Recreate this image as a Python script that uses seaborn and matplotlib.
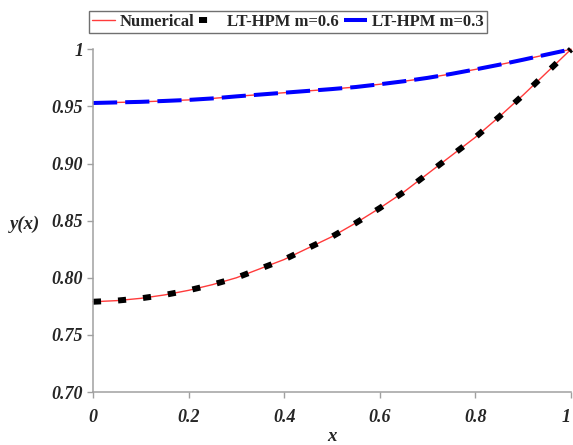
import matplotlib
matplotlib.use("Agg")
import matplotlib.pyplot as plt
import matplotlib.transforms as mtransforms
import seaborn as sns
import pandas as pd

# x positions of the solution samples
x_vals = [0.00, 0.05, 0.10, 0.15, 0.20, 0.25, 0.30, 0.35, 0.40, 0.45, 0.50,
          0.55, 0.60, 0.65, 0.70, 0.75, 0.80, 0.85, 0.90, 0.95, 1.00]

# numerical solution, m = 0.6 and m = 0.3
num_m06 = [0.779, 0.780, 0.782, 0.785, 0.789, 0.794, 0.800, 0.808, 0.816, 0.826, 0.836,
           0.848, 0.861, 0.875, 0.891, 0.907, 0.923, 0.941, 0.960, 0.980, 1.000]
num_m03 = [0.9530, 0.9535, 0.9540, 0.9548, 0.9557, 0.9570, 0.9588, 0.9604, 0.9620, 0.9636, 0.9652,
           0.9670, 0.9694, 0.9720, 0.9750, 0.9785, 0.9824, 0.9865, 0.9909, 0.9955, 1.0000]

# LT-HPM approximations
hpm_m06 = [0.779, 0.780, 0.782, 0.785, 0.789, 0.794, 0.800, 0.808, 0.816, 0.826, 0.836,
           0.848, 0.861, 0.875, 0.891, 0.907, 0.923, 0.941, 0.960, 0.980, 1.000]
hpm_m03 = [0.9530, 0.9535, 0.9540, 0.9548, 0.9557, 0.9570, 0.9588, 0.9604, 0.9620, 0.9636, 0.9652,
           0.9670, 0.9694, 0.9720, 0.9750, 0.9785, 0.9824, 0.9865, 0.9909, 0.9955, 1.0000]

x_ticks = [0, 0.2, 0.4, 0.6, 0.8, 1.0]
x_tick_labels = ["0", "0.2", "0.4", "0.6", "0.8", "1"]
y_ticks = [0.70, 0.75, 0.80, 0.85, 0.90, 0.95, 1.00]
y_tick_labels = ["0.70", "0.75", "0.80", "0.85", "0.90", "0.95", "1"]

labels = ["Numerical", "LT-HPM m=0.6", "LT-HPM m=0.3"]

df = pd.DataFrame({"x": x_vals, "num06": num_m06, "num03": num_m03,
                   "hpm06": hpm_m06, "hpm03": hpm_m03})

sns.set_style("white")
plt.rcParams["font.family"] = ["Liberation Serif", "DejaVu Serif"]

fig = plt.figure(figsize=(5.73, 4.45), dpi=100)
ax = fig.add_axes([0.1623, 0.1191, 0.8342, 0.7701])

red = "#ff3b3b"
sns.lineplot(data=df, x="x", y="num06", ax=ax, color=red, lw=1.0,
             sort=False, errorbar=None, legend=False)
sns.lineplot(data=df, x="x", y="num03", ax=ax, color=red, lw=1.0,
             sort=False, errorbar=None, legend=False)
sns.lineplot(data=df, x="x", y="hpm06", ax=ax, color="black", lw=4.3,
             sort=False, errorbar=None, legend=False)
sns.lineplot(data=df, x="x", y="hpm03", ax=ax, color="#0000ff", lw=2.9,
             sort=False, errorbar=None, legend=False)

lines = ax.lines
num_line, num_line2, hpm06_line, hpm03_line = lines[0], lines[1], lines[2], lines[3]
hpm06_line.set_dashes([1.35, 2.85])
hpm06_line.set_dash_capstyle("butt")
hpm03_line.set_dashes([6.0, 2.0])
hpm03_line.set_dash_capstyle("butt")
for ln in lines:
    ln.set_clip_on(False)

ax.set_xlim(0, 1)
ax.set_ylim(0.70, 1.0)
ax.set_xticks(x_ticks)
ax.set_xticklabels(x_tick_labels)
ax.set_yticks(y_ticks)
ax.set_yticklabels(y_tick_labels)

spine_col = "#a0a0a0"
for side in ["top", "right"]:
    ax.spines[side].set_visible(False)
for side in ["left", "bottom"]:
    ax.spines[side].set_color(spine_col)
    ax.spines[side].set_linewidth(1.1)
ax.tick_params(axis="both", direction="out", length=4, width=1.0, color=spine_col,
               left=True, bottom=True)
ax.tick_params(axis="x", pad=8.5)
ax.tick_params(axis="y", pad=3)

for lab in ax.get_xticklabels() + ax.get_yticklabels():
    lab.set_fontweight("bold")
    lab.set_fontstyle("italic")
    lab.set_fontsize(13)

# keep the last x tick label inside the canvas
last = ax.get_xticklabels()[-1]
last.set_transform(last.get_transform() +
                   mtransforms.ScaledTranslation(-3.5 / 72, 0, fig.dpi_scale_trans))

ax.set_xlabel("x", fontsize=13.5, fontweight="bold", fontstyle="italic", va="baseline")
ax.xaxis.set_label_coords(0.5, -0.143)
ax.set_ylabel("y(x)", fontsize=13.5, fontweight="bold", fontstyle="italic",
              rotation=0, va="center", ha="center")
ax.yaxis.set_label_coords(-0.143, 0.49)

leg = fig.legend([num_line, hpm06_line, hpm03_line], labels,
                 loc="center", bbox_to_anchor=(0.502, 0.9506), ncol=3,
                 prop={"family": ["Liberation Serif"], "weight": "bold", "size": 12},
                 handlelength=1.4, handletextpad=0.28, columnspacing=0.28,
                 borderpad=0.2, borderaxespad=0, fancybox=False, framealpha=1)
leg.get_frame().set_edgecolor("#707070")
leg.get_frame().set_linewidth(1.0)

fig.savefig("out.png", dpi=100, facecolor="white")
